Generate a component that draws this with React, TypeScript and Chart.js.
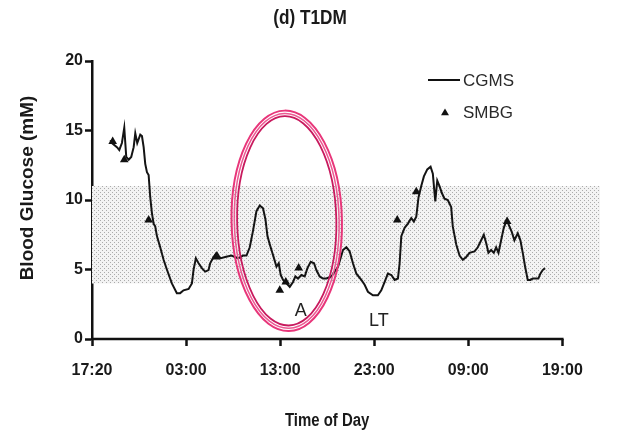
import React, { useEffect, useRef } from "react";
import { Chart, registerables } from "chart.js";

Chart.register(...registerables);

// ---- data ----
const xTickValues = [0, 10, 20, 30, 40, 50];
const xTickLabels = ["17:20", "03:00", "13:00", "23:00", "09:00", "19:00"];
const yTickValues = [0, 5, 10, 15, 20];

const cgmsHours = [
  1.95, 2.12, 2.65, 2.9, 3.18, 3.43, 3.54, 3.64, 3.9, 4.17, 4.43, 4.6, 4.81, 5.13, 5.31, 5.49, 5.66, 5.84,
  6.02, 6.19, 6.37, 6.55, 6.72, 6.9, 7.25, 7.61, 7.96, 8.49, 9.02, 9.37, 9.73, 10.27, 10.62, 10.8, 11.04,
  11.33, 11.68, 12.03, 12.39, 12.56, 12.92, 13.27, 13.62, 14.15, 14.83, 15.53, 16.06, 16.42, 16.77, 17.12,
  17.48, 17.83, 18.18, 18.44, 18.65, 18.9, 19.08, 19.35, 19.61, 19.85, 20.06, 20.31, 20.67, 21.02, 21.37,
  21.62, 21.9, 22.26, 22.61, 22.9, 23.25, 23.6, 23.85, 24.2, 24.55, 24.92, 25.45, 26.15, 26.68, 27.04,
  27.39, 27.74, 28.1, 28.63, 28.98, 29.33, 29.86, 30.39, 30.75, 31.1, 31.45, 31.82, 32.17, 32.52, 32.7,
  32.88, 33.23, 33.58, 33.94, 34.21, 34.47, 34.71, 35.0, 35.28, 35.64, 35.99, 36.23, 36.49, 36.7, 36.94,
  37.19, 37.47, 37.82, 38.18, 38.35, 38.72, 39.07, 39.42, 39.78, 40.13, 40.66, 41.01, 41.37, 41.65, 41.9,
  42.14, 42.43, 42.71, 42.96, 43.21, 43.49, 43.77, 44.09, 44.37, 44.62, 44.9, 45.26, 45.54, 45.79, 46.04,
  46.32, 46.6, 46.85, 47.21, 47.45, 47.66, 47.91, 48.16,
];
const cgmsGlucose = [
  14.3, 14.1, 13.8, 13.6, 14.1, 15.2, 14.1, 13.1, 12.9, 13.1, 13.8, 14.8, 14.1, 14.7, 14.6, 13.8, 12.6, 12.0,
  11.8, 10.2, 9.06, 8.3, 8.1, 7.4, 6.6, 5.7, 5.0, 4.0, 3.3, 3.3, 3.5, 3.6, 4.0, 5.0, 5.8,
  5.45, 5.1, 4.85, 4.96, 5.45, 5.9, 6.2, 5.8, 5.9, 6.0, 5.8, 6.0, 6.0, 6.6, 7.8,
  9.2, 9.6, 9.4, 8.6, 7.4, 6.8, 6.4, 5.8, 5.2, 5.45, 4.6, 4.25, 4.0, 3.75, 4.1,
  4.5, 4.35, 4.6, 4.5, 5.1, 5.55, 5.45, 4.96, 4.5, 4.35, 4.35, 4.5, 5.2, 6.4, 6.6,
  6.3, 5.45, 4.7, 4.25, 3.9, 3.4, 3.15, 3.15, 3.5, 4.1, 4.7, 4.6, 4.25, 4.35, 5.45,
  7.4, 8.0, 8.3, 8.7, 8.45, 8.8, 10.2, 11.0, 11.7, 12.2, 12.4, 11.9, 9.9, 11.4, 11.0,
  10.5, 10.1, 10.0, 9.5, 8.1, 6.8, 6.0, 5.7, 5.9, 6.2, 6.3, 6.6, 7.1, 7.5, 6.9,
  6.2, 6.4, 6.2, 6.6, 6.2, 7.1, 8.0, 8.56, 8.1, 7.7, 7.1, 7.6, 7.1, 6.2, 5.2,
  4.25, 4.25, 4.35, 4.35, 4.35, 4.7, 4.96, 5.1,
];

const smbgHours = [2.2, 3.43, 6.02, 13.16, 19.96, 20.6, 21.97, 32.45, 34.47, 44.13];
const smbgGlucose = [14.2, 12.9, 8.56, 5.9, 3.5, 4.1, 5.1, 8.56, 10.6, 8.45];

const bandHours = [0, 54];
const bandLow = [4, 4];
const bandHigh = [11, 11];

const titleText = "(d) T1DM";
const xAxisTitle = "Time of Day";
const yAxisTitle = "Blood Glucose (mM)";
const legendLabels = ["CGMS", "SMBG"];
const noteLabels = ["A", "LT"];
const noteHours = [22.2, 30.5];
const noteGlucose = [2.0, 1.3];
const circleCenter = [20.7, 8.5];
const circleRadius = [5.57, 7.73];

const SANS = '"Liberation Sans", Arial, sans-serif';
const INK = "#1a1a1a";

function makePattern(): CanvasPattern | string {
  const c = document.createElement("canvas");
  c.width = 4;
  c.height = 4;
  const g = c.getContext("2d");
  if (!g) return "#e0e0e0";
  g.fillStyle = "#f3f3f3";
  g.fillRect(0, 0, 4, 4);
  g.fillStyle = "#ababab";
  g.fillRect(0, 0, 1, 1);
  g.fillRect(2, 2, 1, 1);
  const p = g.createPattern(c, "repeat");
  return p || "#e0e0e0";
}

function narrowText(ctx: CanvasRenderingContext2D, text: string, cx: number, cy: number, squeeze: number) {
  ctx.save();
  ctx.translate(cx, cy);
  ctx.scale(squeeze, 1);
  ctx.textAlign = "center";
  ctx.textBaseline = "middle";
  ctx.fillText(text, 0, 0);
  ctx.restore();
}

const decorPlugin = {
  id: "decor",
  afterDatasetsDraw(chart: any) {
    const { ctx, scales, chartArea } = chart;
    const x = scales.x;
    const y = scales.y;
    ctx.save();
    // x axis line (stops at the last tick)
    ctx.strokeStyle = "#111";
    ctx.lineWidth = 2.5;
    ctx.beginPath();
    ctx.moveTo(x.getPixelForValue(0) - 1, y.getPixelForValue(0));
    ctx.lineTo(x.getPixelForValue(50) + 1.2, y.getPixelForValue(0));
    ctx.stroke();

    // ellipse highlight
    const cx = x.getPixelForValue(circleCenter[0]);
    const cy = y.getPixelForValue(circleCenter[1]);
    const rx = x.getPixelForValue(circleCenter[0] + circleRadius[0]) - cx;
    const ry = cy - y.getPixelForValue(circleCenter[1] + circleRadius[1]);
    const rings = [
      { d: 2.8, c: "#e8367a", w: 2 },
      { d: 0, c: "#ec5a93", w: 1.5 },
      { d: -2.8, c: "#c81a5e", w: 1.8 },
    ];
    for (const r of rings) {
      ctx.strokeStyle = r.c;
      ctx.lineWidth = r.w;
      ctx.beginPath();
      ctx.ellipse(cx, cy, rx + r.d, ry + r.d, -0.02, 0, Math.PI * 2);
      ctx.stroke();
    }

    // notes
    ctx.fillStyle = "#222";
    ctx.font = `18px ${SANS}`;
    ctx.textAlign = "center";
    ctx.textBaseline = "middle";
    noteLabels.forEach((t, i) => {
      ctx.fillText(t, x.getPixelForValue(noteHours[i]), y.getPixelForValue(noteGlucose[i]));
    });

    // legend
    const lx = chartArea.left + 336;
    ctx.strokeStyle = "#111";
    ctx.lineWidth = 2;
    ctx.beginPath();
    ctx.moveTo(lx, 80);
    ctx.lineTo(lx + 32, 80);
    ctx.stroke();
    ctx.fillStyle = "#111";
    const tx = lx + 17;
    const ty = 113;
    const r = 4.6;
    ctx.beginPath();
    ctx.moveTo(tx, ty - r);
    ctx.lineTo(tx + r * 0.866, ty + r * 0.5);
    ctx.lineTo(tx - r * 0.866, ty + r * 0.5);
    ctx.closePath();
    ctx.fill();
    ctx.fillStyle = "#2a2a2a";
    ctx.font = `17px ${SANS}`;
    ctx.textAlign = "left";
    ctx.fillText(legendLabels[0], lx + 35, 81);
    ctx.fillText(legendLabels[1], lx + 35, 113);

    // axis titles
    ctx.fillStyle = INK;
    ctx.font = `bold 18px ${SANS}`;
    narrowText(ctx, xAxisTitle, x.getPixelForValue(25), 421, 0.83);
    ctx.save();
    ctx.translate(28, 188);
    ctx.rotate(-Math.PI / 2);
    ctx.font = `bold 19px ${SANS}`;
    ctx.textAlign = "center";
    ctx.textBaseline = "middle";
    ctx.fillText(yAxisTitle, 0, 0);
    ctx.restore();

    // chart title
    ctx.font = `bold 21px ${SANS}`;
    narrowText(ctx, titleText, 310, 18, 0.82);
    ctx.restore();
  },
};

export default function App() {
  const ref = useRef<HTMLCanvasElement | null>(null);

  useEffect(() => {
    if (!ref.current) return;
    const pattern = makePattern();
    const chart = new Chart(ref.current, {
      type: "scatter",
      data: {
        datasets: [
          {
            label: legendLabels[1],
            data: smbgHours.map((h, i) => ({ x: h, y: smbgGlucose[i] })),
            pointStyle: "triangle",
            pointRadius: 5,
            pointBackgroundColor: "#111",
            pointBorderColor: "#111",
            pointBorderWidth: 0,
            showLine: false,
          },
          {
            label: legendLabels[0],
            data: cgmsHours.map((h, i) => ({ x: h, y: cgmsGlucose[i] })),
            showLine: true,
            borderColor: "#141414",
            borderWidth: 2,
            pointRadius: 0,
            tension: 0,
            fill: false,
          },
          {
            label: "band-high",
            data: bandHours.map((h, i) => ({ x: h, y: bandHigh[i] })),
            showLine: true,
            borderWidth: 0,
            borderColor: "rgba(0,0,0,0)",
            pointRadius: 0,
            backgroundColor: pattern as any,
            fill: "+1",
          },
          {
            label: "band-low",
            data: bandHours.map((h, i) => ({ x: h, y: bandLow[i] })),
            showLine: true,
            borderWidth: 0,
            borderColor: "rgba(0,0,0,0)",
            pointRadius: 0,
            fill: false,
          },
        ],
      },
      options: {
        responsive: false,
        animation: false,
        layout: { padding: { left: 0, right: 21, top: 61, bottom: 0 } },
        plugins: {
          legend: { display: false },
          tooltip: { enabled: false },
          title: { display: false },
        },
        scales: {
          x: {
            type: "linear",
            min: 0,
            max: 54,
            afterBuildTicks: (scale: any) => {
              scale.ticks = xTickValues.map((v) => ({ value: v }));
            },
            afterFit: (scale: any) => {
              scale.height = 95;
            },
            ticks: {
              autoSkip: false,
              maxRotation: 0,
              padding: 15,
              color: INK,
              font: { family: SANS, weight: "bold", size: 16 },
              callback: (v: any) => {
                const i = xTickValues.indexOf(Number(v));
                return i >= 0 ? xTickLabels[i] : "";
              },
            },
            grid: {
              display: true,
              drawOnChartArea: false,
              drawTicks: true,
              tickLength: 7,
              tickWidth: 2.5,
              tickColor: "#111",
            },
            border: { display: false },
          },
          y: {
            type: "linear",
            min: 0,
            max: 20,
            afterBuildTicks: (scale: any) => {
              scale.ticks = yTickValues.map((v) => ({ value: v }));
            },
            afterFit: (scale: any) => {
              scale.width = 92;
            },
            ticks: {
              padding: 2,
              color: INK,
              font: { family: SANS, weight: "bold", size: 16 },
            },
            grid: {
              display: true,
              drawOnChartArea: false,
              drawTicks: true,
              tickLength: 7,
              tickWidth: 2.5,
              tickColor: "#111",
            },
            border: { display: true, color: "#111", width: 2.5 },
          },
        },
      },
      plugins: [decorPlugin],
    });
    return () => chart.destroy();
  }, []);

  return (
    <div style={{ position: "absolute", left: 0, top: 0, width: 621, height: 434, background: "#fff" }}>
      <canvas ref={ref} width={621} height={434} style={{ width: 621, height: 434, display: "block" }} />
    </div>
  );
}
